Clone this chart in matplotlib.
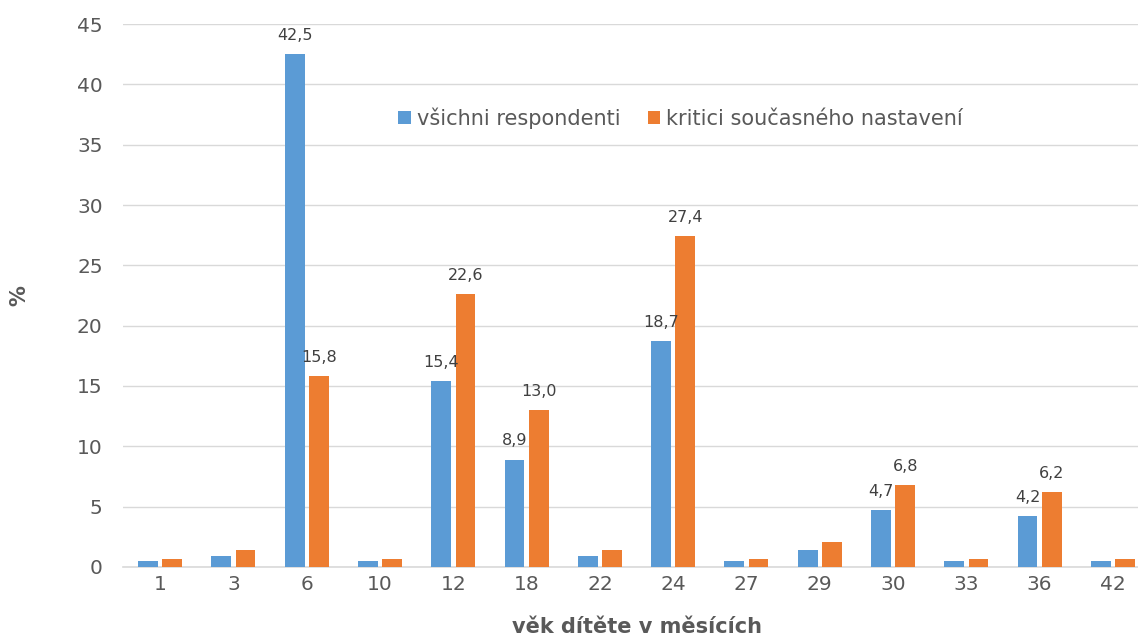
import numpy as np
import matplotlib
matplotlib.use("Agg")
import matplotlib.pyplot as plt

# věk dítěte v měsících
categories = ["1", "3", "6", "10", "12", "18", "22", "24", "27", "29", "30", "33", "36", "42"]
vsichni = [0.5, 0.9, 42.5, 0.5, 15.4, 8.9, 0.9, 18.7, 0.5, 1.4, 4.7, 0.5, 4.2, 0.5]
kritici = [0.7, 1.4, 15.8, 0.7, 22.6, 13.0, 1.4, 27.4, 0.7, 2.1, 6.8, 0.7, 6.2, 0.7]
# which bars carry a data label
labelled = ["6", "12", "18", "24", "30", "36"]

BLUE = "#5B9BD5"
ORANGE = "#ED7D31"
TEXT = "#595959"

plt.rcParams['font.family'] = ['DejaVu Sans']

fig = plt.figure(figsize=(11.38, 6.39), dpi=100)
ax = fig.add_axes([0.1085, 0.1127, 0.9017, 0.8497])

x = np.arange(len(categories))
w = 0.27
off = 0.165
b1 = ax.bar(x - off, vsichni, w, color=BLUE, label="všichni respondenti", zorder=3)
b2 = ax.bar(x + off, kritici, w, color=ORANGE, label="kritici současného nastavení", zorder=3)

def fmt(v):
    return f"{v:.1f}".replace(".", ",")

for bars, vals in ((b1, vsichni), (b2, kritici)):
    for rect, cat, v in zip(bars, categories, vals):
        if cat in labelled:
            ax.annotate(fmt(v), (rect.get_x() + rect.get_width() / 2, v),
                        xytext=(0, 8), textcoords="offset points",
                        ha="center", va="bottom", fontsize=11.5, color="#404040")

ax.set_ylim(0, 45)
ax.set_yticks(range(0, 46, 5))
ax.set_xlim(-0.5, len(categories) - 0.5)
ax.set_xticks(x)
ax.set_xticklabels(categories)

ax.grid(axis="y", color="#D9D9D9", linewidth=1, zorder=0)
for s in ["top", "right", "left"]:
    ax.spines[s].set_visible(False)
ax.spines["bottom"].set_color("#D9D9D9")
ax.spines["bottom"].set_linewidth(1.2)

ax.tick_params(axis="y", length=0, pad=15, labelsize=14.5, labelcolor=TEXT)
ax.tick_params(axis="x", length=0, pad=6, labelsize=14.5, labelcolor=TEXT)

ax.set_xlabel("věk dítěte v měsících", fontsize=15, fontweight="bold", color=TEXT, labelpad=16)
ax.set_ylabel("%", fontsize=15, fontweight="bold", color=TEXT, labelpad=34)

leg = ax.legend(loc="center", bbox_to_anchor=(0.543, 0.827), ncol=2, frameon=False,
                fontsize=15, handlelength=0.6, handleheight=0.6, handletextpad=0.3,
                columnspacing=1.3, labelcolor=TEXT)

fig.savefig("out.png", dpi=100)
